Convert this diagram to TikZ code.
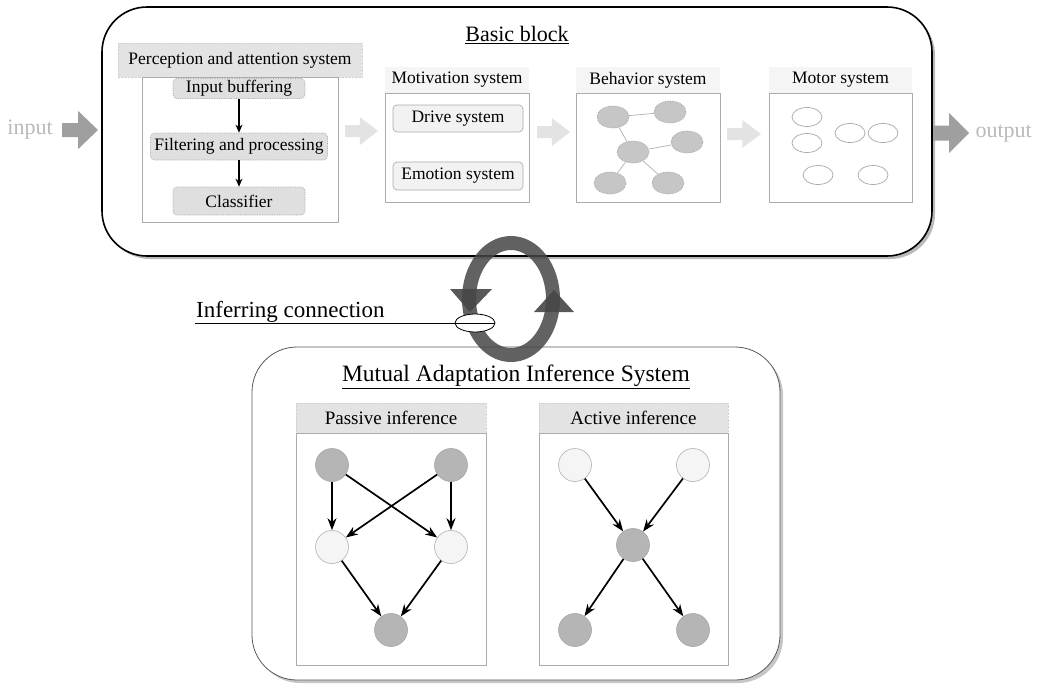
\documentclass[tikz,border=0pt]{standalone}
\usepackage{fontspec}
\setmainfont{Liberation Serif}
\usetikzlibrary{arrows.meta,shadows,shapes.geometric}
\newcommand\blkarrow[6]{\fill[#6] (#1,{#3-#4}) -- ({#2-0.55*(#2-#1)},{#3-#4}) -- ({#2-0.55*(#2-#1)},{#3-#5}) -- (#2,#3) -- ({#2-0.55*(#2-#1)},{#3+#5}) -- ({#2-0.55*(#2-#1)},{#3+#4}) -- (#1,{#3+#4}) -- cycle;}
\begin{document}
\begin{tikzpicture}[x=1pt,y=-1pt,
  small/.style={font=\fontsize{17.5}{20}\selectfont},
  bigbox/.style={draw=black,line width=1.6pt,rounded corners=45pt,fill=white,inner sep=0pt,
     drop shadow={shadow xshift=3pt,shadow yshift=-3pt,fill=gray!55,opacity=1}},
  lowbox/.style={draw=gray!70!black,line width=0.8pt,rounded corners=45pt,fill=white,inner sep=0pt,
     drop shadow={shadow xshift=3pt,shadow yshift=-3pt,fill=gray!45,opacity=1}},
  panel/.style={draw=gray!65,line width=0.7pt,fill=white,inner sep=0pt},
  titlebg/.style={small,fill=gray!22,draw=gray!35,densely dotted,line width=0.4pt,inner sep=0pt},
  titlefaint/.style={small,fill=gray!8,inner sep=0pt},
  procbox/.style={small,draw=gray!70,densely dotted,line width=0.7pt,fill=gray!25,rounded corners=4pt,inner sep=0pt},
  drvbox/.style={small,draw=gray!65,line width=0.7pt,fill=gray!10,rounded corners=4pt,inner sep=0pt},
  bell/.style={ellipse,draw=gray!70,densely dotted,line width=0.7pt,fill=gray!45,minimum width=32pt,minimum height=22pt,inner sep=0pt},
  mell/.style={ellipse,draw=gray!70,line width=0.7pt,fill=white,minimum width=30pt,minimum height=19pt,inner sep=0pt},
  dark/.style={circle,draw=gray!70,line width=0.6pt,fill=gray!58,minimum size=33pt,inner sep=0pt},
  light/.style={circle,draw=gray!60,line width=0.6pt,fill=gray!8,minimum size=33pt,inner sep=0pt},
  inf/.style={-{Stealth[length=12pt,width=9pt]},line width=1.7pt},
  thinarr/.style={-{Stealth[length=8pt,width=7pt]},line width=1.1pt},
  bedge/.style={draw=gray!60,line width=0.7pt}
]
\useasboundingbox (0,0) rectangle (1039,689);

% ---------- top block ----------
\node[bigbox,minimum width=830pt,minimum height=249pt] (basic) at (517,131.5) {};
\node[font=\fontsize{22}{26}\selectfont] (basictitle) at (517,35) {\underline{Basic block}};

% perception
\node[titlebg,minimum width=244pt,minimum height=34pt] (perct) at (240,60) {Perception and attention system};
\node[panel,minimum width=196pt,minimum height=145pt] (percbox) at (240,149.5) {};
\node[procbox,minimum width=132pt,minimum height=20pt] (inbuf) at (239,88.5) {Input buffering};
\node[procbox,minimum width=177pt,minimum height=27pt] (filt) at (239,146.5) {Filtering and processing};
\node[procbox,minimum width=132pt,minimum height=28pt] (clas) at (239,201) {Classifier};
\draw[thinarr] (inbuf) -- (filt);
\draw[thinarr] (filt) -- (clas);

% motivation
\node[titlefaint,minimum width=144pt,minimum height=26pt] (mott) at (457,80) {Motivation system};
\node[panel,minimum width=144pt,minimum height=109pt] (motbox) at (457,147.5) {};
\node[drvbox,minimum width=130pt,minimum height=27pt] (drive) at (458,118.5) {Drive system};
\node[drvbox,minimum width=130pt,minimum height=28pt] (emot) at (458,176) {Emotion system};

% behavior
\node[titlefaint,minimum width=144pt,minimum height=26pt] (beht) at (648,80) {Behavior system};
\node[panel,minimum width=144pt,minimum height=109pt] (behbox) at (648,147.5) {};
\node[bell] (ba) at (613,117) {};
\node[bell] (bb) at (670,112) {};
\node[bell] (bc) at (687,142) {};
\node[bell] (bd) at (633,152) {};
\node[bell] (be) at (610,183) {};
\node[bell] (bf) at (668,183) {};
\draw[bedge] (ba) -- (bb);
\draw[bedge] (ba) -- (bd);
\draw[bedge] (bd) -- (bc);
\draw[bedge] (bd) -- (be);
\draw[bedge] (bd) -- (bf);

% motor
\node[titlefaint,minimum width=143pt,minimum height=26pt] (mott2) at (840.5,80) {Motor system};
\node[panel,minimum width=143pt,minimum height=109pt] (mtrbox) at (840.5,147.5) {};
\node[mell] (m1) at (807,117) {};
\node[mell] (m2) at (807,143) {};
\node[mell] (m3) at (850,133) {};
\node[mell] (m4) at (883,133) {};
\node[mell] (m5) at (818,175) {};
\node[mell] (m6) at (873,175) {};

% block arrows
\blkarrow{62}{98}{130}{7}{19}{gray!75}
\blkarrow{933}{969}{133}{7.5}{20}{gray!75}
\blkarrow{345}{378}{131}{6}{14}{gray!22}
\blkarrow{537}{570}{132}{6}{14}{gray!22}
\blkarrow{727}{761}{134}{6}{14}{gray!22}
\node[font=\fontsize{22}{26}\selectfont,text=gray!55] (input) at (30,130) {input};
\node[font=\fontsize{22}{26}\selectfont,text=gray!55,anchor=west] (output) at (972,134) {output};

% ---------- lower block ----------
\node[lowbox,minimum width=528pt,minimum height=333pt] (mais) at (516,513.5) {};
\node[font=\fontsize{23.5}{27}\selectfont] (maistitle) at (516,377) {\underline{Mutual Adaptation Inference System}};

\node[titlebg,font=\fontsize{19}{22}\selectfont,minimum width=190pt,minimum height=30pt] (past) at (391,418) {Passive inference};
\node[panel,minimum width=190pt,minimum height=232pt] (pasbox) at (391,549) {};
\node[titlebg,font=\fontsize{19}{22}\selectfont,minimum width=189pt,minimum height=30pt] (actt) at (633.5,418) {Active inference};
\node[panel,minimum width=189pt,minimum height=232pt] (actbox) at (633.5,549) {};

\node[dark] (p1) at (332,465) {};
\node[dark] (p2) at (451,465) {};
\node[light] (p3) at (332,547) {};
\node[light] (p4) at (451,547) {};
\node[dark] (p5) at (391,630) {};
\draw[inf] (p1) -- (p3);
\draw[inf] (p1) -- (p4);
\draw[inf] (p2) -- (p3);
\draw[inf] (p2) -- (p4);
\draw[inf] (p3) -- (p5);
\draw[inf] (p4) -- (p5);

\node[light] (a1) at (575,465) {};
\node[light] (a2) at (693,465) {};
\node[dark] (a3) at (633,545) {};
\node[dark] (a4) at (575,630) {};
\node[dark] (a5) at (693,630) {};
\draw[inf] (a1) -- (a3);
\draw[inf] (a2) -- (a3);
\draw[inf] (a3) -- (a4);
\draw[inf] (a3) -- (a5);

% ---------- ring ----------
\draw[gray!55!black,line width=14pt,opacity=0.85] (511,299) ellipse [x radius=42pt, y radius=56pt];
\fill[gray!55!black,opacity=0.9] (450,289) -- (492,289) -- (470,312) -- cycle;
\fill[gray!55!black,opacity=0.9] (534,312) -- (574,312) -- (554,290) -- cycle;

% inferring connection
\node[font=\fontsize{23}{27}\selectfont,anchor=base west,inner sep=0pt] (infer) at (196,317) {Inferring connection};
\node[ellipse,draw=black,fill=white,line width=0.8pt,minimum width=40pt,minimum height=18pt,inner sep=0pt] (conn) at (475,323) {};
\coordinate (infstart) at (195,323);
\draw[line width=0.9pt] (infstart) -- (conn.east);
\end{tikzpicture}
\end{document}
